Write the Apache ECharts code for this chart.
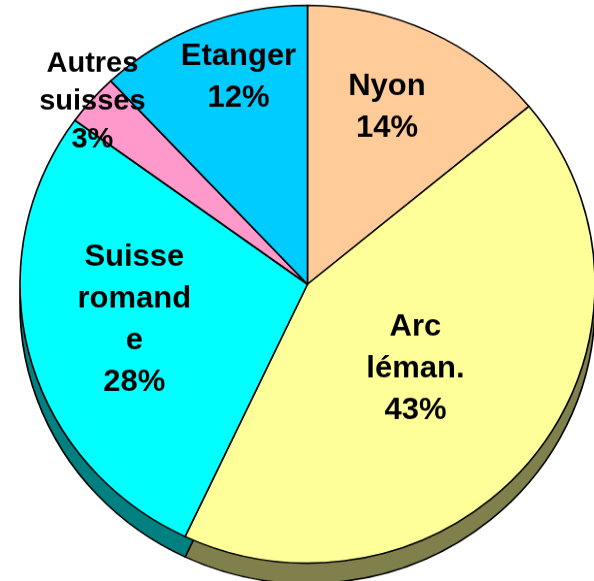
<!DOCTYPE html>
<html>
<head>
<meta charset="utf-8">
<script src="https://cdn.jsdelivr.net/npm/echarts@6/dist/echarts.min.js"></script>
<style>
html,body{margin:0;padding:0;background:#fff;overflow:hidden;}
#c{width:594px;height:599px;transform:scaleY(0.97);transform-origin:0 0;}
</style>
</head>
<body>
<div id="c"></div>
<script>
// Data
const categories = ['Nyon', 'Arc\nléman.', 'Suisse\nromand\ne', 'Autres\nsuisses', 'Etanger'];
const values = [14, 43, 28, 3, 12];

// Styles
const topColors = ['#FFCC99', '#FFFF99', '#00FFFF', '#FF99CC', '#00CCFF'];
const sideColors = ['#80664C', '#80804C', '#008080', '#804C66', '#006680'];
const labelOffsets = [[17, -49], [-8, -2], [-31, 0], [-105, -91], [-15, -77]];
const labelSizes = [31, 31, 31, 29, 31];
const labelLineHeights = [43, 43, 43, 39, 43];

const chart = echarts.init(document.getElementById('c'), null, {renderer: 'canvas'});

const center = [307.5, 293];
const sideCenter = [307.5, 314];
const radius = 287.5;

chart.setOption({
  animation: false,
  series: [
    {
      type: 'pie',
      silent: true,
      center: sideCenter,
      radius: radius,
      startAngle: 90,
      clockwise: true,
      label: {show: false},
      labelLine: {show: false},
      itemStyle: {borderColor: '#000', borderWidth: 1.6},
      data: values.map((v, i) => ({
        value: v, name: categories[i],
        itemStyle: {color: sideColors[i]}
      }))
    },
    {
      type: 'pie',
      silent: true,
      center: center,
      radius: radius,
      startAngle: 90,
      clockwise: true,
      avoidLabelOverlap: false,
      labelLine: {show: false},
      itemStyle: {borderColor: '#000', borderWidth: 1.6},
      label: {
        show: true,
        position: 'inside',
        formatter: '{b}\n{d}%',
        color: '#000',
        fontFamily: '"Liberation Sans", Arial, sans-serif',
        fontWeight: 'bold',
        align: 'center'
      },
      data: values.map((v, i) => ({
        value: v, name: categories[i],
        itemStyle: {color: topColors[i]},
        label: {
          offset: labelOffsets[i],
          fontSize: labelSizes[i],
          lineHeight: labelLineHeights[i]
        }
      }))
    }
  ]
});
</script>
</body>
</html>
